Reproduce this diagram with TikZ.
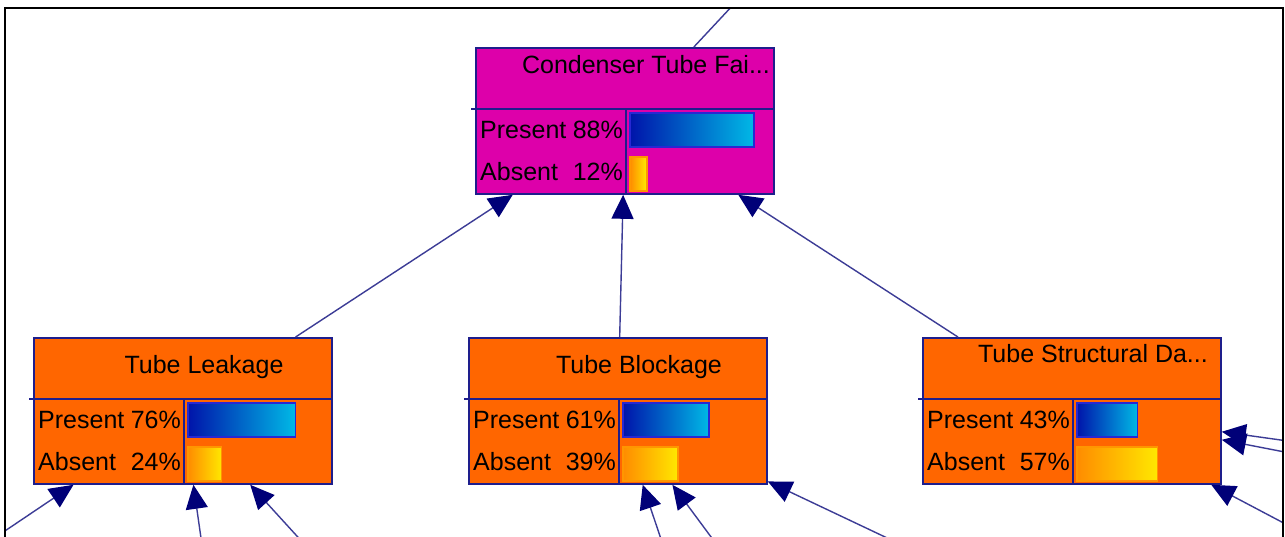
\documentclass[tikz,border=0pt]{standalone}
\usepackage{fontspec}
\setmainfont{Liberation Sans}
\usetikzlibrary{arrows.meta}

\definecolor{boxline}{RGB}{30,30,140}
\definecolor{linkline}{RGB}{60,60,150}
\definecolor{tipcol}{RGB}{0,0,120}
\definecolor{magentafill}{RGB}{221,0,170}
\definecolor{orangefill}{RGB}{255,102,0}
\definecolor{presL}{RGB}{0,20,170}
\definecolor{presR}{RGB}{0,185,230}
\definecolor{presB}{RGB}{40,40,210}
\definecolor{absL}{RGB}{255,140,0}
\definecolor{absR}{RGB}{255,232,0}
\definecolor{absB}{RGB}{255,150,0}

\tikzset{
  netbox/.style={draw=boxline, line width=1.8pt, minimum width=298pt,
    minimum height=146pt, inner sep=0pt},
  netline/.style={draw=boxline, line width=1.8pt},
  label text/.style={inner sep=0pt, text=black,
    font=\fontsize{25}{30}\selectfont},
  link/.style={draw=linkline, line width=1.4pt,
    -{Triangle[length=24pt,width=22pt,color=tipcol]}},
  plainlink/.style={draw=linkline, line width=1.4pt},
}

% #1 name, #2 left, #3 top, #4 fill, #5 title, #6 title baseline offset,
% #7 present percentage, #8 absent percentage
\newcommand\bnbox[8]{%
  \node[netbox, fill=#4, anchor=north west] (#1) at (#2+1,#3+1) {};
  \draw[netline] (#2-3,#3+63) -- (#2+299,#3+63);
  \draw[netline] (#2+152,#3+63) -- (#2+152,#3+147);
  \node[label text, anchor=base] (#1-title) at (#2+172,#3+#6) {#5};
  \node[label text, anchor=base west] (#1-pw) at (#2+6,#3+92) {Present};
  \node[label text, anchor=base east] (#1-pv) at (#2+149,#3+92) {#7\%};
  \node[label text, anchor=base west] (#1-aw) at (#2+6,#3+134) {Absent};
  \node[label text, anchor=base east] (#1-av) at (#2+149,#3+134) {#8\%};
  \shade[left color=presL, right color=presR, draw=presB, line width=1.2pt]
    (#2+156,#3+67) rectangle (#2+156+1.41*#7,#3+101);
  \shade[left color=absL, right color=absR, draw=absB, line width=1.2pt]
    (#2+156,#3+111) rectangle (#2+156+1.41*#8,#3+145);
}

\begin{document}
\begin{tikzpicture}[x=1pt, y=-1pt]
  \clip (0,0) rectangle (1285,536);
  \fill[white] (0,0) rectangle (1285,536);

  % network nodes
  \bnbox{cond}{474}{46}{magentafill}{Condenser Tube Fai...}{27}{88}{12}
  \bnbox{leak}{32}{336}{orangefill}{Tube Leakage}{37}{76}{24}
  \bnbox{block}{467}{336}{orangefill}{Tube Blockage}{37}{61}{39}
  \bnbox{struct}{921}{336}{orangefill}{Tube Structural Da...}{26}{43}{57}

  % free ends of links that leave the visible area
  \coordinate (up) at (762,-26);
  \coordinate (l1) at (-10,541);
  \coordinate (l2) at (202,545);
  \coordinate (l3) at (306,546);
  \coordinate (b1) at (663,545);
  \coordinate (b2) at (717,545);
  \coordinate (b3) at (902,545);
  \coordinate (s1) at (1295,442);
  \coordinate (s2) at (1295,454);
  \coordinate (s3) at (1295,529);

  \begin{scope}
    \clip (6,9) rectangle (1282,540);
    \draw[plainlink] (cond) -- (up);
    \draw[link] (leak) -- (cond);
    \draw[link] (block) -- (cond);
    \draw[link] (struct) -- (cond);
    \draw[link] (l1) -- (leak);
    \draw[link] (l2) -- (leak);
    \draw[link] (l3) -- (leak);
    \draw[link] (b1) -- (block);
    \draw[link] (b2) -- (block);
    \draw[link] (b3) -- (block);
    \draw[link] (s1) -- (struct);
    \draw[link] (s2) -- (struct);
    \draw[link] (s3) -- (struct);
  \end{scope}

  % outer frame
  \draw[black, line width=2pt] (5,8) rectangle (1283,560);
\end{tikzpicture}
\end{document}
